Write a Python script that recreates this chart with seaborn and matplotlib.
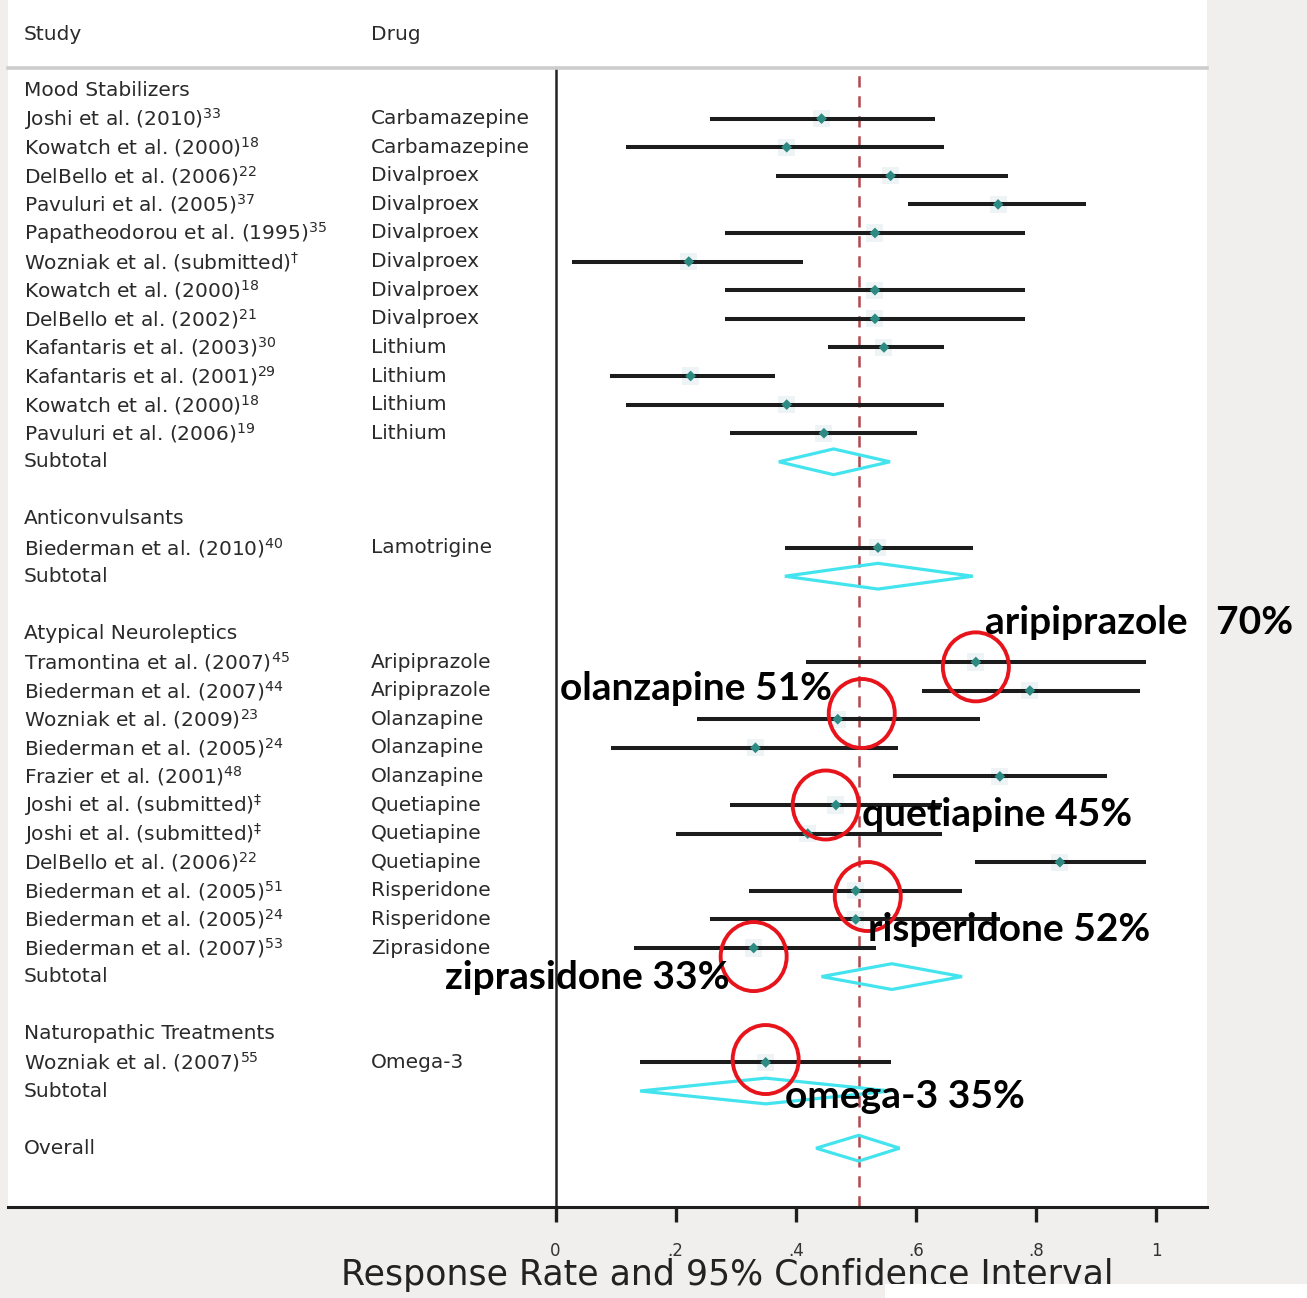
import numpy as np
import pandas as pd
import matplotlib
matplotlib.use("Agg")
import matplotlib.pyplot as plt
from matplotlib.patches import Ellipse, Rectangle, Polygon
import seaborn as sns

# ---------------- data ----------------
group_names = ["Mood Stabilizers", "Anticonvulsants",
               "Atypical Neuroleptics", "Naturopathic Treatments"]

ms_studies = ["Joshi et al. (2010)", "Kowatch et al. (2000)", "DelBello et al. (2006)",
              "Pavuluri et al. (2005)", "Papatheodorou et al. (1995)",
              "Wozniak et al. (submitted)", "Kowatch et al. (2000)", "DelBello et al. (2002)",
              "Kafantaris et al. (2003)", "Kafantaris et al. (2001)",
              "Kowatch et al. (2000)", "Pavuluri et al. (2006)"]
ms_refs = ["33", "18", "22", "37", "35", r"\dagger", "18", "21", "30", "29", "18", "19"]
ms_drugs = ["Carbamazepine", "Carbamazepine", "Divalproex", "Divalproex", "Divalproex",
            "Divalproex", "Divalproex", "Divalproex", "Lithium", "Lithium", "Lithium", "Lithium"]
ms_est = [0.443, 0.385, 0.558, 0.737, 0.532, 0.222, 0.532, 0.532, 0.547, 0.225, 0.385, 0.447]
ms_lo = [0.257, 0.118, 0.368, 0.587, 0.282, 0.028, 0.282, 0.282, 0.453, 0.090, 0.118, 0.290]
ms_hi = [0.632, 0.647, 0.753, 0.883, 0.782, 0.412, 0.782, 0.782, 0.647, 0.365, 0.647, 0.602]
ms_subtotal = [0.463, 0.372, 0.557]

ac_studies = ["Biederman et al. (2010)"]
ac_refs = ["40"]
ac_drugs = ["Lamotrigine"]
ac_est = [0.537]
ac_lo = [0.382]
ac_hi = [0.695]
ac_subtotal = [0.537, 0.382, 0.695]

an_studies = ["Tramontina et al. (2007)", "Biederman et al. (2007)", "Wozniak et al. (2009)",
              "Biederman et al. (2005)", "Frazier et al. (2001)", "Joshi et al. (submitted)",
              "Joshi et al. (submitted)", "DelBello et al. (2006)", "Biederman et al. (2005)",
              "Biederman et al. (2005)", "Biederman et al. (2007)"]
an_refs = ["45", "44", "23", "24", "48", r"\ddagger", r"\ddagger", "22", "51", "24", "53"]
an_drugs = ["Aripiprazole", "Aripiprazole", "Olanzapine", "Olanzapine", "Olanzapine",
            "Quetiapine", "Quetiapine", "Quetiapine", "Risperidone", "Risperidone", "Ziprasidone"]
an_est = [0.700, 0.790, 0.470, 0.333, 0.740, 0.467, 0.420, 0.840, 0.500, 0.500, 0.330]
an_lo = [0.417, 0.610, 0.235, 0.093, 0.562, 0.290, 0.200, 0.698, 0.323, 0.257, 0.130]
an_hi = [0.983, 0.973, 0.707, 0.570, 0.918, 0.644, 0.643, 0.983, 0.677, 0.740, 0.533]
an_subtotal = [0.560, 0.443, 0.677]

nt_studies = ["Wozniak et al. (2007)"]
nt_refs = ["55"]
nt_drugs = ["Omega-3"]
nt_est = [0.350]
nt_lo = [0.141]
nt_hi = [0.558]
nt_subtotal = [0.350, 0.141, 0.558]

overall = [0.505, 0.434, 0.573]

x_ticks = [0, 0.2, 0.4, 0.6, 0.8, 1.0]
x_tick_labels = ["0", ".2", ".4", ".6", ".8", "1"]

highlight_drugs = ["aripiprazole", "olanzapine", "quetiapine", "risperidone", "ziprasidone", "omega-3"]
highlight_rates = [70, 51, 45, 52, 33, 35]

# ---------------- build table ----------------
groups = [
    (ms_studies, ms_refs, ms_drugs, ms_est, ms_lo, ms_hi, ms_subtotal),
    (ac_studies, ac_refs, ac_drugs, ac_est, ac_lo, ac_hi, ac_subtotal),
    (an_studies, an_refs, an_drugs, an_est, an_lo, an_hi, an_subtotal),
    (nt_studies, nt_refs, nt_drugs, nt_est, nt_lo, nt_hi, nt_subtotal),
]

study_rows, header_rows, subtotal_rows = [], [], []
row = 0
for name, (st, rf, dr, es, lo, hi, sub) in zip(group_names, groups):
    header_rows.append((row, name))
    row += 1
    for s, r, d, e, l, h in zip(st, rf, dr, es, lo, hi):
        study_rows.append(dict(row=row, study=s, ref=r, drug=d, est=e, lo=l, hi=h))
        row += 1
    subtotal_rows.append(dict(row=row, est=sub[0], lo=sub[1], hi=sub[2], label="Subtotal"))
    row += 2
overall_row = dict(row=row, est=overall[0], lo=overall[1], hi=overall[2], label="Overall")

df = pd.DataFrame(study_rows)
pooled = pd.DataFrame(subtotal_rows + [overall_row])

# ---------------- figure ----------------
sns.set_theme(style="white")
plt.rcParams["font.family"] = ["DejaVu Sans"]
plt.rcParams["mathtext.fontset"] = "dejavusans"
plt.rcParams["mathtext.default"] = "regular"

W, H = 1307, 1298
fig = plt.figure(figsize=(W / 100, H / 100), dpi=100, facecolor="#f1eeee")

# white header band above the panel
fig.patches.append(Rectangle((8 / W, 1 - 68 / H), 1199 / W, 68 / H,
                             transform=fig.transFigure, facecolor="white",
                             edgecolor="none", zorder=-1))

ax = fig.add_axes([8 / W, 1 - 1207 / H, 1199 / W, (1207 - 68) / H])
ax.set_facecolor("white")

px0, px1 = 555.5, 1156.0
scale = (px1 - px0)
ax.set_xlim((8 - px0) / scale, (1207 - px0) / scale)
row_h = 28.6
ax.set_ylim((1207 - 90) / row_h, (68 - 90) / row_h)

# reference line at the overall estimate
ax.axvline(overall[0], color="#b2474d", lw=1.8, ls=(0, (4.5, 3.5)), zorder=1)
# zero line
ax.axvline(0, color="#222222", lw=1.8, zorder=2)

# confidence intervals
ax.hlines(df["row"], df["lo"], df["hi"], color="#1c1c1c", lw=2.9, zorder=3)

# faint halo + point estimates
sns.scatterplot(data=df, x="est", y="row", marker="s", s=150, color="#eef3f5",
                edgecolor="none", zorder=2.5, legend=False, ax=ax)
sns.scatterplot(data=df, x="est", y="row", marker="D", s=30, color="#2e8b83",
                edgecolor="none", zorder=4, legend=False, ax=ax)

# pooled diamonds
dh = 0.45
for _, p in pooled.iterrows():
    ax.add_patch(Polygon([(p.lo, p.row), (p.est, p.row - dh), (p.hi, p.row), (p.est, p.row + dh)],
                         closed=True, fill=False, edgecolor="#44e4ef", lw=2.3, zorder=3))

# text columns
xs_study = (24 - px0) / scale
xs_drug = (371 - px0) / scale
lab_kw = dict(fontsize=14.5, color="#2a2a2a", va="center", ha="left")
ax.text(xs_study, (35 - 90) / row_h, "Study", clip_on=False, zorder=5, **lab_kw)
ax.text(xs_drug, (35 - 90) / row_h, "Drug", clip_on=False, zorder=5, **lab_kw)
for r, name in header_rows:
    ax.text(xs_study, r, name, **lab_kw)
for _, s in df.iterrows():
    ax.text(xs_study, s.row, s.study + "$^{" + s.ref + "}$", **lab_kw)
    ax.text(xs_drug, s.row, s.drug, **lab_kw)
for _, p in pooled.iterrows():
    ax.text(xs_study, p.row, p.label, **lab_kw)

# axes styling
for side in ["left", "right"]:
    ax.spines[side].set_visible(False)
ax.spines["top"].set_color("#cdcdcd")
ax.spines["top"].set_linewidth(2.6)
ax.spines["bottom"].set_color("#1e1e1e")
ax.spines["bottom"].set_linewidth(2.2)
ax.set_yticks([])
ax.set_xticks(x_ticks)
ax.set_xticklabels(x_tick_labels)
ax.tick_params(axis="x", bottom=True, direction="out", length=11, width=2.4,
               color="#1e1e1e", labelsize=12, pad=14, labelcolor="#333333")
ax.set_xlabel("")
ax.set_ylabel("")

fig.text(727 / W, 1 - 1275 / H, "Response Rate and 95% Confidence Interval",
         fontsize=25, color="#222222", ha="center", va="center")

# highlighted drugs: ellipse at the stated response rate, bold callout text
ell_rows = [20.17, 21.8, 25.0, 28.2, 30.3, 33.9]
txt_pos = [(985, 622), (560, 688), (862, 814), (868, 929), (445, 977), (785, 1096)]
for drug, rate, er, (tx, ty) in zip(highlight_drugs, highlight_rates, ell_rows, txt_pos):
    ax.add_patch(Ellipse((rate / 100, er), width=66 / scale, height=69 / row_h,
                         fill=False, edgecolor="#e8141c", lw=2.8, zorder=6, clip_on=False))
    gap = "   " if drug == "aripiprazole" else " "
    ax.text((tx - px0) / scale, (ty - 90) / row_h, f"{drug}{gap}{rate}%",
            fontsize=28, fontweight="bold", family=["Lato", "DejaVu Sans"],
            color="black", ha="left", va="center", zorder=7, clip_on=False)

# white strip along the lower right edge
fig.patches.append(Rectangle((885 / W, 0), (W - 885) / W, (H - 1284) / H,
                             transform=fig.transFigure, facecolor="white",
                             edgecolor="none", zorder=10))

fig.savefig("out.png", dpi=100, facecolor=fig.get_facecolor())
